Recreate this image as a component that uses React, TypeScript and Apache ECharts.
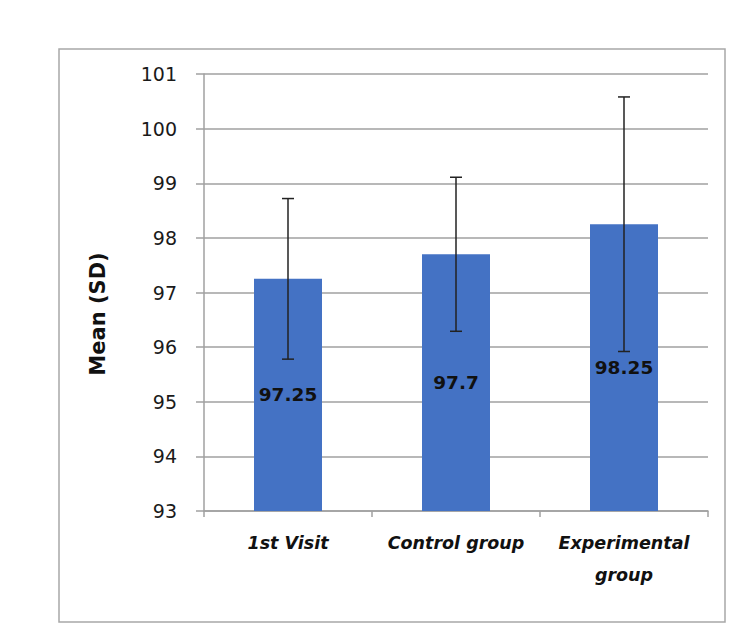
import React, { useEffect, useRef } from "react";
import * as echarts from "echarts";

const categories = ["1st Visit", "Control group", "Experimental\ngroup"];
const means = [97.25, 97.7, 98.25];
const sds = [1.47, 1.41, 2.33];
const yTicks = { min: 93, max: 101, interval: 1 };
const yTitle = "Mean (SD)";

export default function App() {
  const ref = useRef<HTMLDivElement>(null);
  useEffect(() => {
    if (!ref.current) return;
    const chart = echarts.init(ref.current, undefined, { renderer: "svg" });
    const font = "'DejaVu Sans', sans-serif";
    const errData = means.map((m, i) => [i, m - sds[i], m + sds[i]]);
    chart.setOption({
      animation: false,
      backgroundColor: "#ffffff",
      graphic: [
        {
          type: "rect",
          shape: { x: 59, y: 49, width: 666, height: 573 },
          style: { fill: "none", stroke: "#a8a8a8", lineWidth: 1.5 },
          silent: true,
          z: -1,
        },
        {
          type: "text",
          x: 98,
          y: 314,
          rotation: Math.PI / 2,
          style: {
            text: yTitle,
            fill: "#111",
            font: "bold 21px 'DejaVu Sans', sans-serif",
            textAlign: "center",
            textVerticalAlign: "middle",
          },
          silent: true,
        },
      ],
      grid: { left: 204, top: 74, width: 504, height: 437 },
      xAxis: {
        type: "category",
        data: categories,
        axisLine: { show: true, lineStyle: { color: "#a0a0a0", width: 1.5 } },
        axisTick: { show: true, length: 6, lineStyle: { color: "#a0a0a0", width: 1.5 } },
        axisLabel: {
          color: "#111",
          fontFamily: font,
          fontWeight: "bold",
          fontStyle: "italic",
          fontSize: 17.5,
          lineHeight: 32,
          margin: 16,
          interval: 0,
        },
        splitLine: { show: false },
      },
      yAxis: {
        type: "value",
        min: yTicks.min,
        max: yTicks.max,
        interval: yTicks.interval,
        axisLine: { show: true, lineStyle: { color: "#a0a0a0", width: 1.5 } },
        axisTick: { show: true, length: 8, lineStyle: { color: "#a0a0a0", width: 1.5 } },
        axisLabel: { color: "#1a1a1a", fontFamily: font, fontSize: 19, margin: 27 },
        splitLine: { show: true, lineStyle: { color: "#a0a0a0", width: 1.5 } },
      },
      series: [
        {
          type: "bar",
          data: means,
          barWidth: 68,
          itemStyle: { color: "#4472C4" },
          label: {
            show: true,
            position: "inside",
            color: "#111",
            fontFamily: font,
            fontWeight: "bold",
            fontSize: 18.5,
          },
          z: 2,
        },
        {
          type: "custom",
          data: errData,
          z: 3,
          renderItem: (params: any, api: any) => {
            const x = api.value(0);
            const lo = api.coord([x, api.value(1)]);
            const hi = api.coord([x, api.value(2)]);
            const hw = 6;
            const style = { stroke: "#222", lineWidth: 1.5 };
            return {
              type: "group",
              children: [
                { type: "line", shape: { x1: hi[0], y1: hi[1], x2: lo[0], y2: lo[1] }, style },
                { type: "line", shape: { x1: hi[0] - hw, y1: hi[1], x2: hi[0] + hw, y2: hi[1] }, style },
                { type: "line", shape: { x1: lo[0] - hw, y1: lo[1], x2: lo[0] + hw, y2: lo[1] }, style },
              ],
            };
          },
        },
      ],
    });
    return () => chart.dispose();
  }, []);
  return (
    <div
      ref={ref}
      style={{ position: "fixed", left: 0, top: 0, width: 750, height: 644, background: "#fff" }}
    />
  );
}
